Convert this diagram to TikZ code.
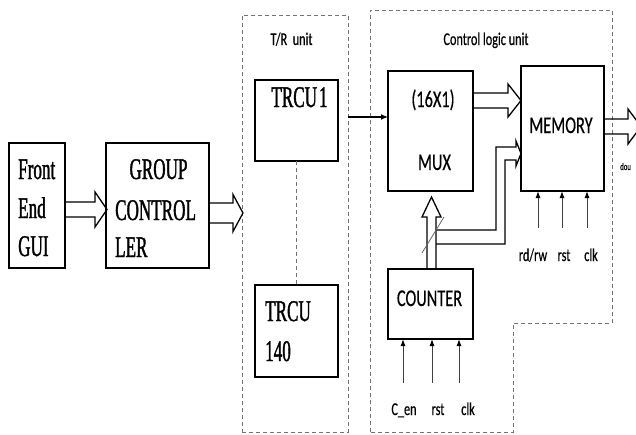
\documentclass[tikz,border=0pt]{standalone}
\usepackage{fontspec}
\setmainfont{Liberation Serif}
\newfontfamily\serc[FakeStretch=0.57,FakeBold=1.2]{Liberation Serif}
\newfontfamily\sanc[FakeStretch=0.68,FakeBold=0.4]{Carlito}
\usetikzlibrary{arrows.meta}
\begin{document}
\begin{tikzpicture}[x=1pt,y=-1pt,
  blk/.style={draw, line width=1.6pt, inner sep=0pt, outer sep=0pt},
  dsh/.style={draw=black!55, line width=0.9pt, dash pattern=on 4pt off 3pt},
  hline/.style={draw, line width=1.3pt, line join=miter},
  sertxt/.style={font=\serc\fontsize{30}{32}\selectfont, inner sep=0pt},
  bigtxt/.style={font=\sanc\fontsize{24}{26}\selectfont, inner sep=0pt},
  smtxt/.style={font=\sanc\fontsize{18}{20}\selectfont, inner sep=0pt},
  inarrow/.style={draw=black!75, line width=1pt, -{Latex[length=7pt,width=5pt,color=black]}},
  conn/.style={draw, line width=1.2pt, -{Latex[length=7pt,width=6pt]}}
]
\useasboundingbox (0,0) rectangle (636,434);
\clip (0,0) rectangle (636,434);

% dashed containers
\node[dsh, minimum width=106pt, minimum height=417pt, inner sep=0pt] (tr) at (295,223.5) {};
\draw[dsh] (370,432) -- (370,10) -- (612,10) -- (612,323) -- (513,323) -- (513,432) -- cycle;
\node[smtxt, anchor=base] (trlab) at (291.5,45) {T/R\ \ unit};
\node[smtxt, anchor=base] (cllab) at (486,45) {Control logic unit};

% boxes
\node[blk, minimum width=56pt, minimum height=125pt] (fe) at (37,205.5) {};
\node[blk, minimum width=103pt, minimum height=125pt] (gc) at (157.5,205.5) {};
\node[blk, minimum width=83pt, minimum height=81pt] (t1) at (296.5,120.5) {};
\node[blk, minimum width=83pt, minimum height=92pt] (t140) at (296.5,331) {};
\node[blk, minimum width=85pt, minimum height=120pt] (mux) at (430.5,131) {};
\node[blk, minimum width=83pt, minimum height=125pt] (mem) at (562.5,128.5) {};
\node[blk, minimum width=85pt, minimum height=70pt] (cnt) at (430.5,304) {};

% serif texts
\node[sertxt, anchor=base west] (fe1) at (18,179) {Front};
\node[sertxt, anchor=base west] (fe2) at (18,218) {End};
\node[sertxt, anchor=base west] (fe3) at (18,256) {GUI};
\node[sertxt, anchor=base] (gc1) at (158.5,179) {GROUP};
\node[sertxt, anchor=base west] (gc2) at (115,220) {CONTROL};
\node[sertxt, anchor=base west] (gc3) at (115,257) {LER};
\node[sertxt, anchor=base] (t1t) at (299.5,107) {TRCU\kern2pt 1};
\node[sertxt, anchor=base west] (t140a) at (265,321) {TRCU};
\node[sertxt, anchor=base west] (t140b) at (265,361) {140};

% sans texts
\node[bigtxt, anchor=base] (muxa) at (433,107) {(16X1)};
\node[bigtxt, anchor=base] (muxb) at (434.5,170) {MUX};
\node[bigtxt, anchor=base] (memt) at (561,133) {MEMORY};
\node[bigtxt, anchor=base] (cntt) at (429.5,306) {COUNTER};

% T/R internal dashed link
\draw[dsh] (t1.south) -- (t140.north);

% block arrows (hollow, open at the tail)
\draw[hline] (fe.east |- 0,202) -- (95,202) -- (95,192) -- (107,209.5) -- (95,227) -- (95,217) -- (fe.east |- 0,217);
\draw[hline] (gc.east |- 0,203) -- (233,203) -- (233,194.5) -- (243,213) -- (233,231.5) -- (233,223) -- (gc.east |- 0,223);
\draw[hline] (mux.east |- 0,93) -- (508,93) -- (508,84) -- (mem.west |- 0,100.5) -- (508,117) -- (508,108) -- (mux.east |- 0,108);
\draw[hline] (mem.east |- 0,119) -- (628,119) -- (628,109) -- (641,126.5) -- (628,144) -- (628,134) -- (mem.east |- 0,134);
\draw[hline] (427,0 |- cnt.north) -- (427,217) -- (422,217) -- (431.5,197) -- (441,217) -- (436,217) -- (436,0 |- cnt.north);

% counter to memory bent block arrow
\draw[hline] (436,230) -- (496,230) -- (496,147) -- (516,147) -- (516,141) -- (mem.west |- 0,153.5) -- (516,166) -- (516,160) -- (505,160) -- (505,244) -- (436,244);
\draw[black!60, line width=0.8pt] (422,253) -- (444,217);

% TRCU1 to MUX
\coordinate (trout) at (348,117);
\draw[conn] (trout) -- (trout -| mux.west);

% memory inputs
\coordinate (mi1) at (538,228);
\coordinate (mi2) at (562,228);
\coordinate (mi3) at (587,228);
\draw[inarrow] (mi1) -- (mi1 |- mem.south);
\draw[inarrow] (mi2) -- (mi2 |- mem.south);
\draw[inarrow] (mi3) -- (mi3 |- mem.south);
\node[smtxt, anchor=base] (ml1) at (533,261) {rd/rw};
\node[smtxt, anchor=base] (ml2) at (564,261) {rst};
\node[smtxt, anchor=base] (ml3) at (591,261) {clk};

% counter inputs
\coordinate (ci1) at (403,383);
\coordinate (ci2) at (432,383);
\coordinate (ci3) at (459,383);
\draw[inarrow] (ci1) -- (ci1 |- cnt.south);
\draw[inarrow] (ci2) -- (ci2 |- cnt.south);
\draw[inarrow] (ci3) -- (ci3 |- cnt.south);
\node[smtxt, anchor=base] (cl1) at (404,415) {C\_en};
\node[smtxt, anchor=base] (cl2) at (438,415) {rst};
\node[smtxt, anchor=base] (cl3) at (468,415) {clk};

% output label
\node[font=\sanc\fontsize{10}{12}\selectfont, inner sep=0pt, anchor=base west] (dou) at (620,170) {dou};
\end{tikzpicture}
\end{document}
